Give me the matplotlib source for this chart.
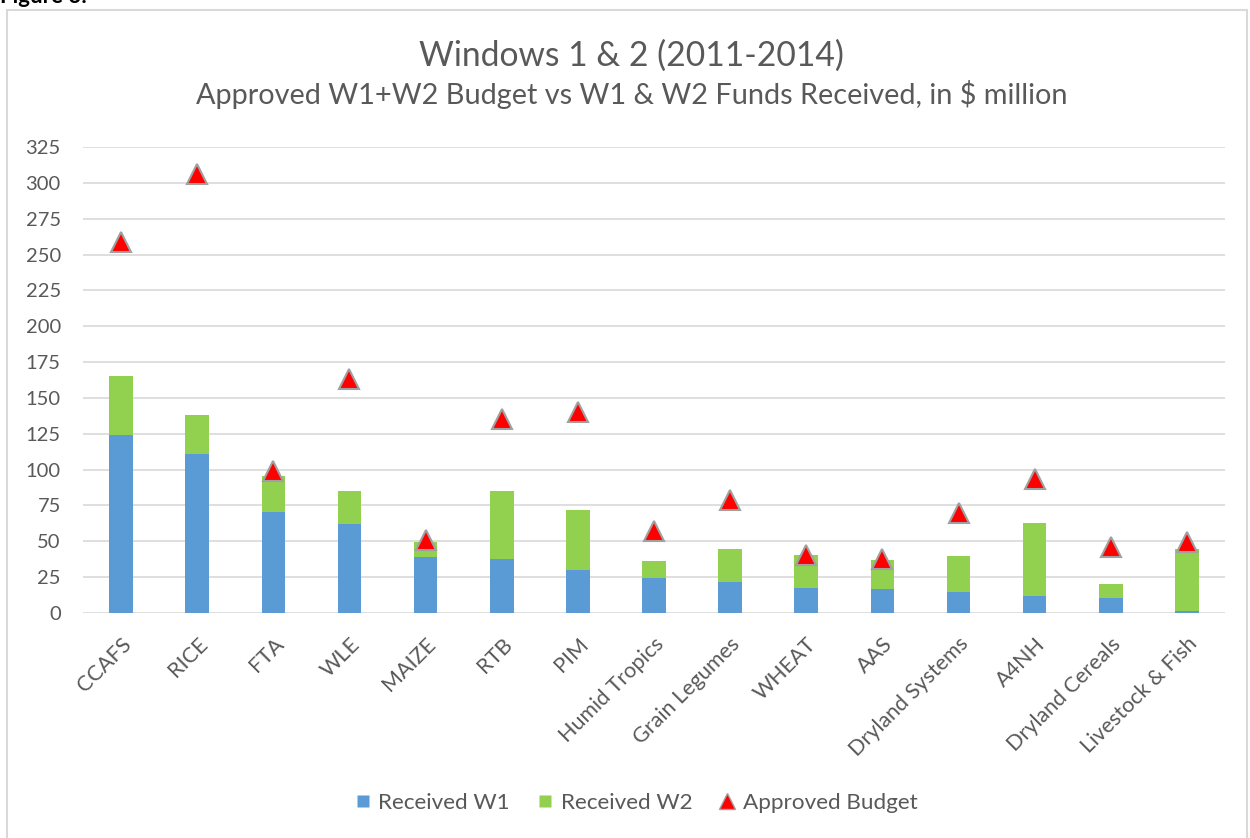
import matplotlib.pyplot as plt
import numpy as np
from matplotlib.patches import Rectangle
from matplotlib.lines import Line2D

plt.rcParams['font.family'] = ['Lato', 'DejaVu Sans']

# Programs (CRPs) and values in $ million
programs = ['CCAFS', 'RICE', 'FTA', 'WLE', 'MAIZE', 'RTB', 'PIM', 'Humid Tropics',
            'Grain Legumes', 'WHEAT', 'AAS', 'Dryland Systems', 'A4NH',
            'Dryland Cereals', 'Livestock & Fish']
received_w1 = [124.3, 110.6, 70.5, 62.2, 39.4, 37.5, 30.0, 24.2, 21.6, 17.5, 17.0, 14.7, 11.9, 10.5, 1.4]
received_total = [165.3, 138.3, 95.5, 85.0, 49.2, 84.8, 71.7, 36.1, 44.5, 40.5, 37.3, 40.1, 62.6, 20.0, 44.3]
approved_budget = [259, 306, 98.7, 163.3, 50.8, 135.4, 140.5, 57.4, 78.9, 40.8, 37.7, 69.9, 93.2, 46.1, 49.4]

received_w2 = [t - a for t, a in zip(received_total, received_w1)]

blue = '#5b9bd5'
green = '#92d050'
text_gray = '#595959'

fig = plt.figure(figsize=(12.5, 8.38), dpi=100)
ax = fig.add_axes([0.0664, 0.2685, 0.9136, 0.556])

x = np.arange(len(programs))
ax.bar(x, received_w1, width=0.31, color=blue, edgecolor='none', zorder=2)
ax.bar(x, received_w2, width=0.31, bottom=received_w1, color=green, edgecolor='none', zorder=2)
ax.plot(x, approved_budget, linestyle='none', marker='^', markersize=15,
        markerfacecolor='#ff0000', markeredgecolor='#a0a0a0', markeredgewidth=1.5,
        zorder=3, clip_on=False)

ax.set_xlim(-0.5, len(programs) - 0.5)
ax.set_ylim(0, 325)
ax.set_yticks(np.arange(0, 326, 25))
ax.yaxis.grid(True, color='#d9d9d9', linewidth=1.2, zorder=0)
ax.set_axisbelow(True)
for s in ax.spines.values():
    s.set_visible(False)
ax.tick_params(axis='both', length=0, labelcolor=text_gray)
ax.tick_params(axis='y', pad=16, labelsize=14.5)
ax.set_xticks(x)
ax.set_xticklabels(programs, rotation=45, ha='right', rotation_mode='anchor')
ax.tick_params(axis='x', pad=15, labelsize=15.5)

# Titles
fig.text(0.505, 0.934, 'Windows 1 & 2 (2011-2014)', ha='center', va='center',
         fontsize=24.2, color=text_gray)
fig.text(0.505, 0.887, 'Approved W1+W2 Budget vs W1 & W2 Funds Received, in $ million',
         ha='center', va='center', fontsize=20.8, color=text_gray)

# Legend
handles = [
    Line2D([], [], linestyle='none', marker='s', markersize=9, markerfacecolor=blue, markeredgecolor='none'),
    Line2D([], [], linestyle='none', marker='s', markersize=9, markerfacecolor=green, markeredgecolor='none'),
    Line2D([], [], linestyle='none', marker='^', markersize=11, markerfacecolor='#ff0000',
           markeredgecolor='#a0a0a0', markeredgewidth=1),
]
fig.legend(handles, ['Received W1', 'Received W2', 'Approved Budget'], loc='center',
           bbox_to_anchor=(0.509, 0.042), ncol=3, frameon=False, fontsize=16.2,
           labelcolor=text_gray, handlelength=0.7, handletextpad=0.35, columnspacing=1.2)

# Chart border and the cut-off caption above it
fig.patches.append(Rectangle((7 / 1250, -0.01), 1240 / 1250, 1 - 10 / 838 + 0.01,
                             transform=fig.transFigure, fill=False,
                             edgecolor='#d9d9d9', linewidth=1.5))
fig.text(0.0, 0.996, 'Figure 3:', ha='left', va='baseline', fontsize=16,
         fontweight='bold', color='black')

fig.savefig('out.png', dpi=100)
